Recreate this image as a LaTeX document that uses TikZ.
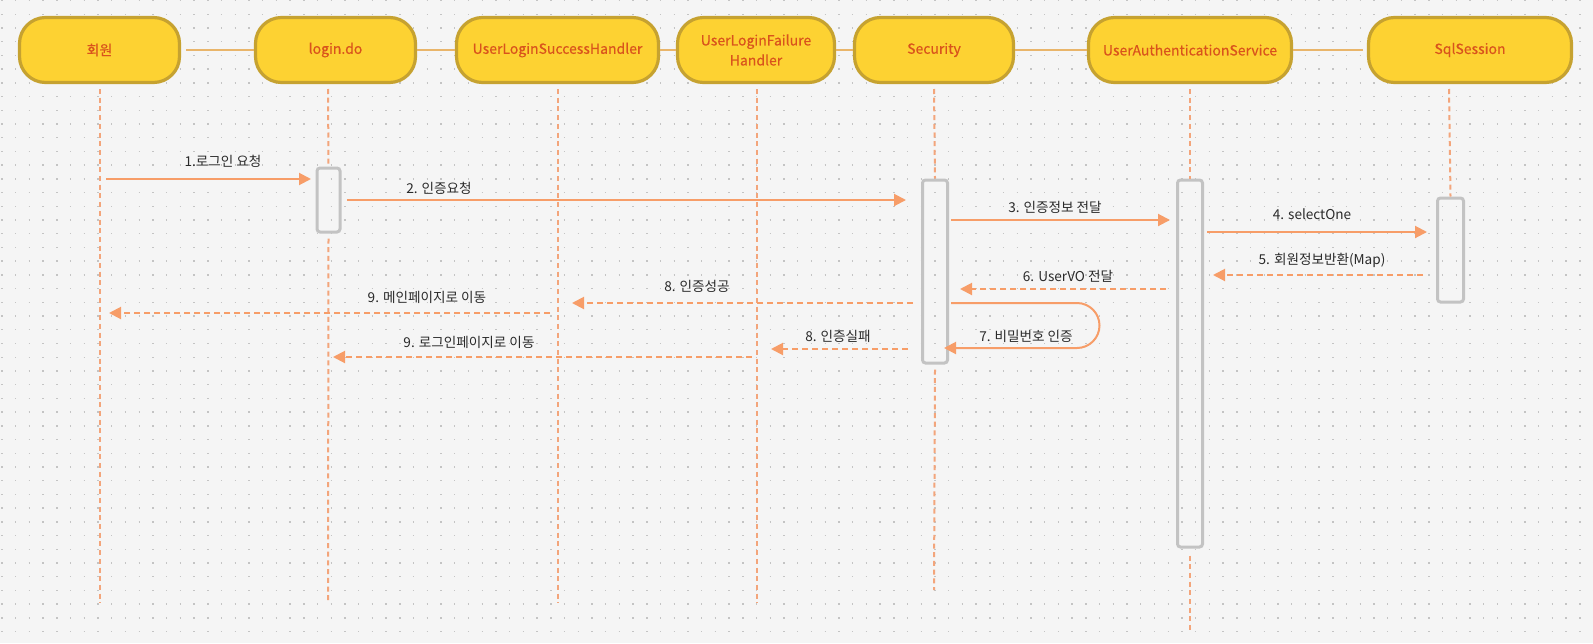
\documentclass[tikz,border=0pt]{standalone}
\usepackage{fontspec}
\setmainfont{Noto Sans CJK KR}
\newfontfamily\boxfont[FakeBold=0.3]{Noto Sans CJK KR}
\usetikzlibrary{arrows.meta}
\definecolor{bgc}{HTML}{F5F5F5}
\definecolor{dotc}{HTML}{C4C4C4}
\definecolor{boxfill}{HTML}{FDD232}
\definecolor{boxline}{HTML}{C6A230}
\definecolor{boxtext}{HTML}{D9531C}
\definecolor{linkc}{HTML}{E9B56A}
\definecolor{arrc}{HTML}{F79D68}
\definecolor{lifec}{HTML}{F3A57B}
\definecolor{actc}{HTML}{C3C3C3}
\definecolor{labc}{HTML}{2A2A2A}
\tikzset{
  actor/.style={draw=boxline, fill=boxfill, line width=3.2pt, rounded corners=26pt,
    minimum height=65pt, text=boxtext, font=\boxfont\fontsize{14}{20}\selectfont, align=center, inner sep=0pt},
  link/.style={draw=linkc, line width=2.5pt},
  life/.style={draw=lifec, line width=2pt, dash pattern=on 5pt off 3.7pt},
  act/.style={draw=actc, line width=3pt, rounded corners=3pt, inner sep=0pt},
  msg/.style={draw=arrc, line width=2pt, -{Triangle[length=12pt,width=12pt]}},
  ret/.style={msg, dash pattern=on 6pt off 4pt},
  lab/.style={text=labc, font=\fontsize{13.6}{15}\selectfont, inner sep=0pt}
}
\begin{document}
\begin{tikzpicture}[x=1pt,y=-1pt]
\useasboundingbox (0,0) rectangle (1593,643);
\fill[bgc] (0,0) rectangle (1593,643);
% dot grid
\foreach \j in {0,...,46} {
  \draw[dotc, line width=1.4pt, dash pattern=on 1.4pt off 12.32pt] (1.3,{0.5+\j*13.72}) -- (1593,{0.5+\j*13.72});
}
% actors
\node[actor, minimum width=160pt] (m) at (99.5,50) {회원};
\node[actor, minimum width=160pt] (l) at (335.5,50) {login.do};
\node[actor, minimum width=202pt] (s) at (557.5,50) {UserLoginSuccessHandler};
\node[actor, minimum width=157pt] (f) at (756,50) {UserLoginFailure\\Handler};
\node[actor, minimum width=159pt] (c) at (934,50) {Security};
\node[actor, minimum width=203pt] (u) at (1190,50) {UserAuthenticationService};
\node[actor, minimum width=203pt] (q) at (1470,50) {SqlSession};
% links between actors
\draw[link, shorten <=5pt] (m.east) -- (l.west);
\draw[link] (l.east) -- (s.west);
\draw[link] (s.east) -- (f.west);
\draw[link] (f.east) -- (c.west);
\draw[link] (c.east) -- (u.west);
\draw[link, shorten >=4pt] (u.east) -- (q.west);
% activation boxes
\node[act, minimum width=23pt, minimum height=64pt] (al) at (328.5,200) {};
\node[act, minimum width=25pt, minimum height=183pt] (ac) at (935,271.5) {};
\node[act, minimum width=25pt, minimum height=367pt] (au) at (1190,363.5) {};
\node[act, minimum width=26pt, minimum height=104pt] (aq) at (1450.5,250) {};
% lifeline coordinates
\coordinate (mt) at (100,89);  \coordinate (mb) at (100,603);
\coordinate (lt) at (328,89);  \coordinate (lb) at (328,603);
\coordinate (st) at (558,89);  \coordinate (sb) at (558,603);
\coordinate (ft) at (757,89);  \coordinate (fb) at (757,603);
\coordinate (ct) at (934,89);  \coordinate (cb) at (934,590);
\coordinate (ut) at (1190,89); \coordinate (ub) at (1190,631);
\coordinate (qt) at (1449,89);
\draw[life] (mt) -- (mb);
\draw[life] (lt) -- (al.north);
\draw[life] (al.south) ++(0,5) -- (lb);
\draw[life] (st) -- (sb);
\draw[life] (ft) -- (fb);
\draw[life] (ct) -- (ac.north);
\draw[life] (ac.south) ++(0,5) -- (cb);
\draw[life] (ut) -- (au.north);
\draw[life] (au.south) ++(0,7) -- (ub);
\draw[life] (qt) -- (aq.north);
% message endpoints
\coordinate (p1a) at (106,179);  \coordinate (p1b) at (311,179);
\coordinate (p2a) at (347,200);  \coordinate (p2b) at (906,200);
\coordinate (p3a) at (951,220);  \coordinate (p3b) at (1170,220);
\coordinate (p4a) at (1207,232); \coordinate (p4b) at (1427,232);
\coordinate (p5a) at (1423,275); \coordinate (p5b) at (1213,275);
\coordinate (p6a) at (1166,289); \coordinate (p6b) at (960,289);
\coordinate (p7a) at (951,303);  \coordinate (p7b) at (944,348);
\coordinate (p8a) at (913,303);  \coordinate (p8b) at (572,303);
\coordinate (p8c) at (908,349);  \coordinate (p8d) at (771,349);
\coordinate (p9a) at (550,313);  \coordinate (p9b) at (109,313);
\coordinate (p9c) at (752,357);  \coordinate (p9d) at (333,357);
\draw[msg] (p1a) -- (p1b);
\draw[msg] (p2a) -- (p2b);
\draw[msg] (p3a) -- (p3b);
\draw[msg] (p4a) -- (p4b);
\draw[ret] (p5a) -- (p5b);
\draw[ret] (p6a) -- (p6b);
\draw[msg] (p7a) -- (1077,303) arc[start angle=90, end angle=-90, radius=22.5pt] -- (p7b);
\draw[ret] (p8a) -- (p8b);
\draw[ret] (p8c) -- (p8d);
\draw[ret] (p9a) -- (p9b);
\draw[ret] (p9c) -- (p9d);
% labels
\node[lab] (t1) at (223,161) {1.로그인 요청};
\node[lab] (t2) at (439,188) {2. 인증요청};
\node[lab] (t3) at (1055,207) {3. 인증정보 전달};
\node[lab] (t4) at (1312,214) {4. selectOne};
\node[lab] (t5) at (1322,260) {5. 회원정보반환(Map)};
\node[lab] (t6) at (1068,276) {6. UserVO 전달};
\node[lab] (t7) at (1026,336) {7. 비밀번호 인증};
\node[lab] (t8a) at (697,286) {8. 인증성공};
\node[lab] (t8b) at (838,336) {8. 인증실패};
\node[lab] (t9a) at (427,297) {9. 메인페이지로 이동};
\node[lab] (t9b) at (469,342) {9. 로그인페이지로 이동};
\end{tikzpicture}
\end{document}
